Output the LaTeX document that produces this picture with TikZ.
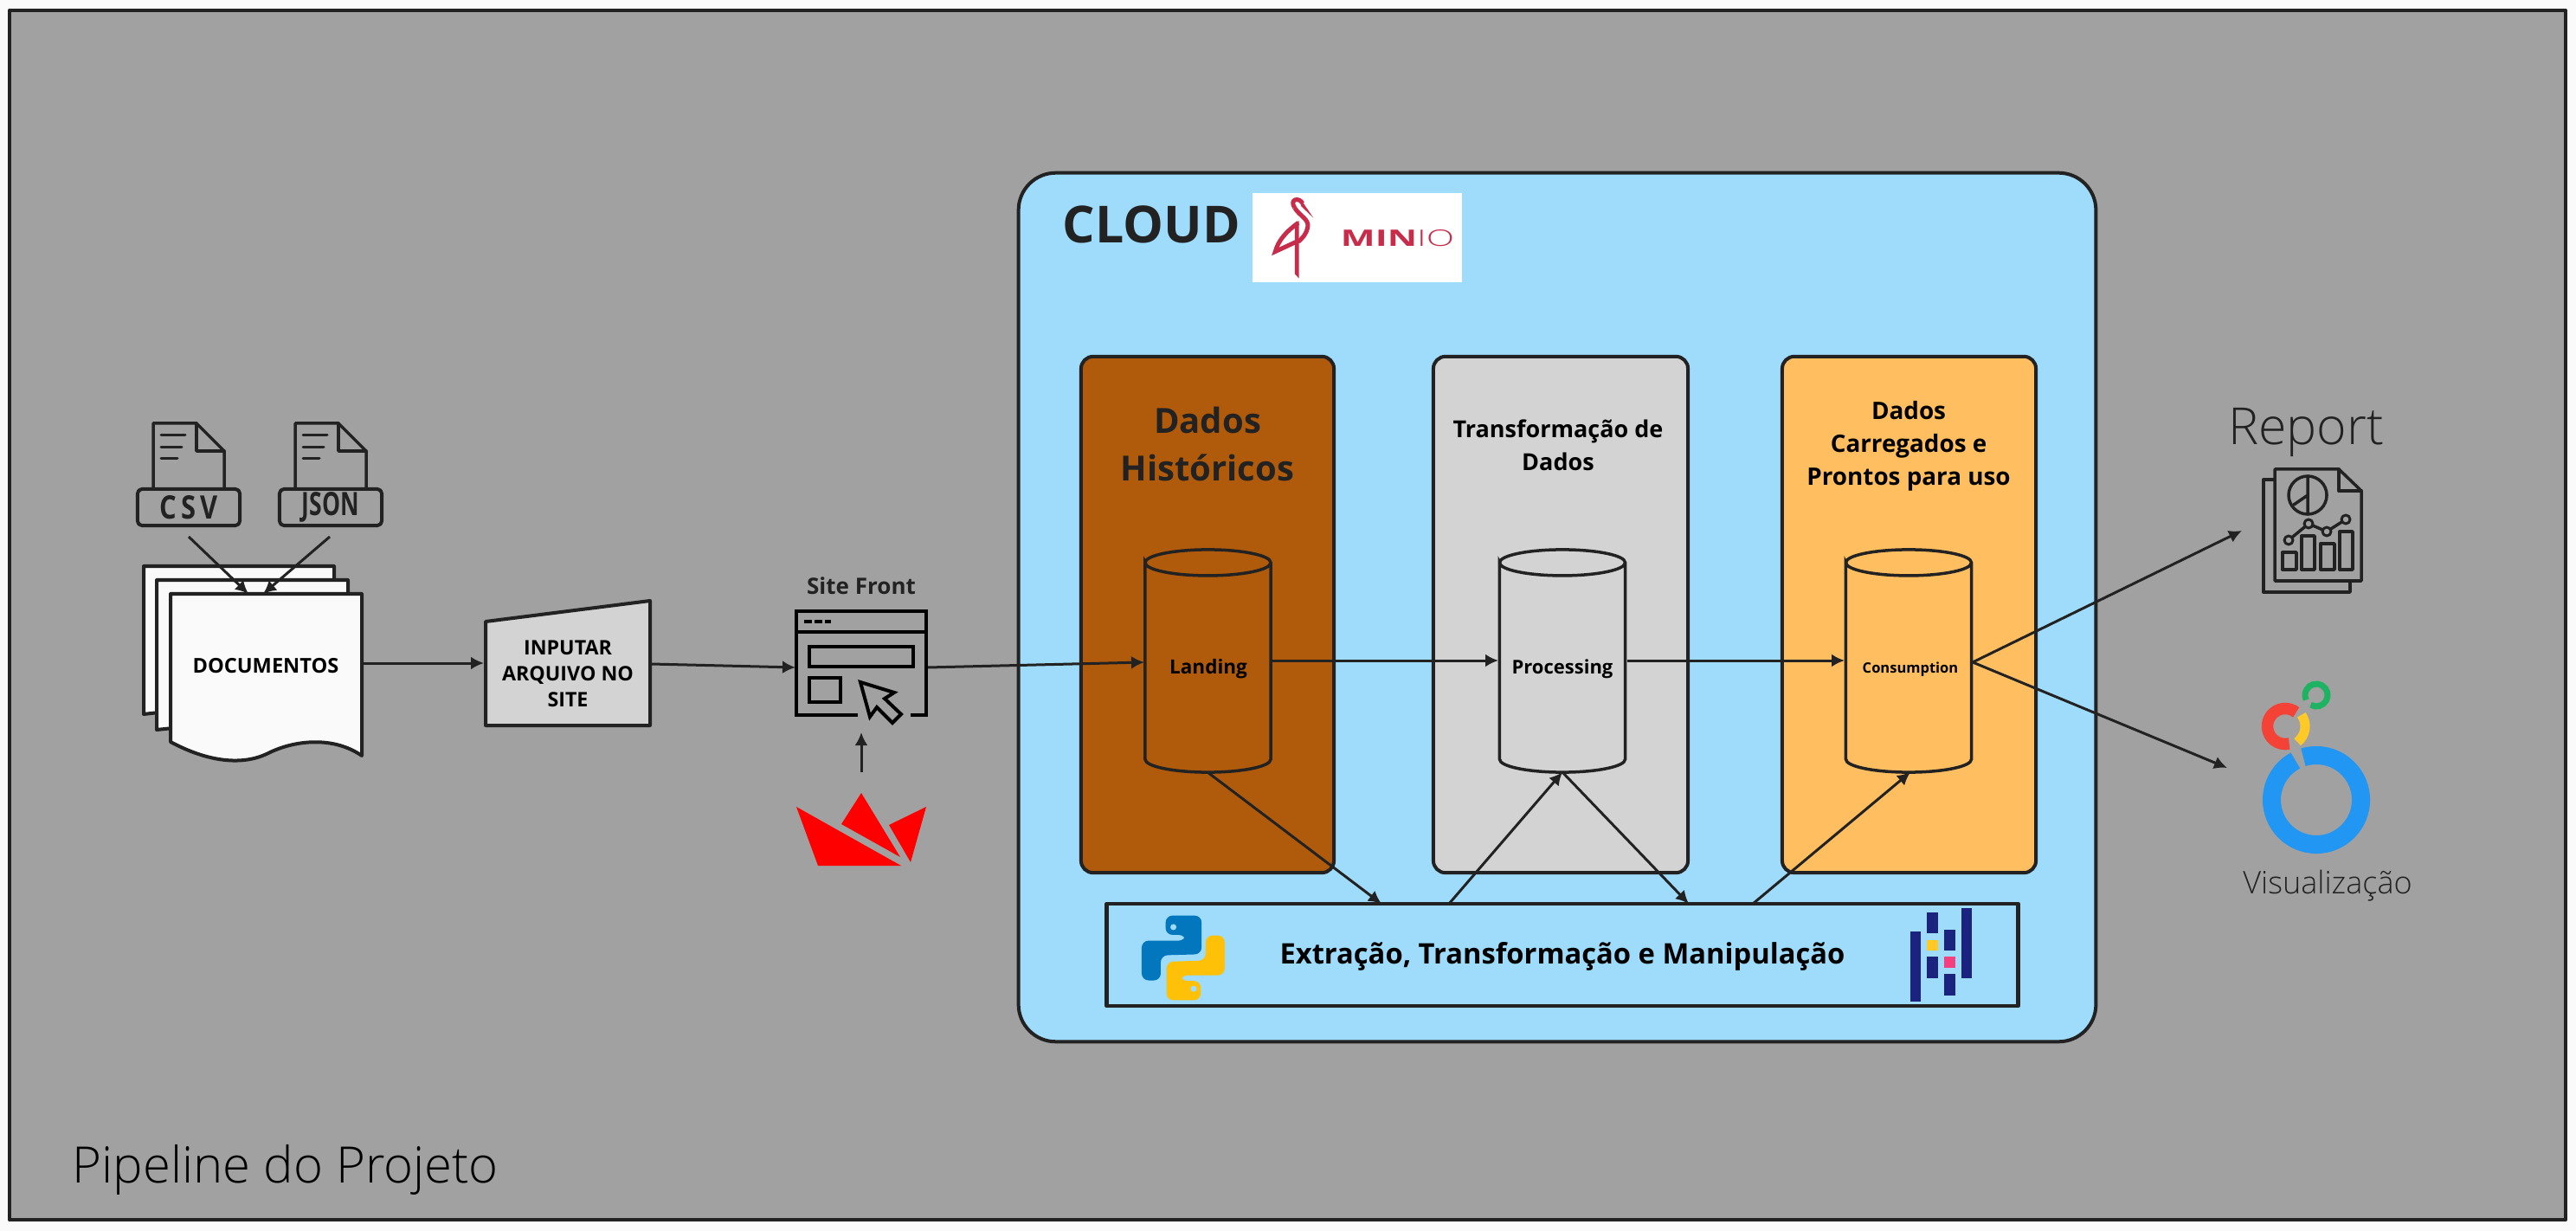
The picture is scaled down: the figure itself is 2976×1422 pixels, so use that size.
\documentclass[tikz,border=0pt]{standalone}
\usepackage{fontspec}
\setmainfont{Open Sans}
\newfontfamily\lightf{Open Sans Light}
\usetikzlibrary{arrows.meta,shapes.geometric,calc}
\newcommand\fpx[2]{\fontsize{\fpeval{#1*0.2845}pt}{\fpeval{#2*0.2845}pt}\selectfont}
\definecolor{ink}{HTML}{222222}
\definecolor{bggray}{HTML}{A1A1A1}
\definecolor{paper}{HTML}{FAFAFA}
\definecolor{cloudblue}{HTML}{9FDBFA}
\definecolor{brownc}{HTML}{B05A0B}
\definecolor{grayc}{HTML}{D3D3D3}
\definecolor{orangec}{HTML}{FFBF60}
\definecolor{minio}{HTML}{C72C4A}
\definecolor{pyblue}{HTML}{0277BD}
\definecolor{pyyellow}{HTML}{FFC107}
\definecolor{pdb}{HTML}{1A237E}
\definecolor{pdy}{HTML}{FFCA28}
\definecolor{pdp}{HTML}{F5407F}
\tikzset{
  x=0.01cm,y=-0.01cm,
  line4/.style={draw=ink,line width=0.04cm,line join=round},
  boxn/.style={line4,rectangle,inner sep=0pt,outer sep=0pt},
  column/.style={boxn,rounded corners=0.14cm,minimum width=2.92cm,minimum height=5.96cm},
  cylbox/.style={rectangle,minimum width=1.45cm,minimum height=2.57cm,inner sep=0pt,outer sep=0pt},
  cylline/.style={draw=ink,line width=0.035cm},
  arr/.style={draw=ink,line width=0.03cm,-{Latex[length=0.15cm,width=0.15cm]},shorten >=0pt},
  lab/.style={align=center,inner sep=0pt,text=ink},
  icon/.style={draw=ink,line width=0.035cm,line join=round,line cap=round},
  sheet/.style={draw=ink,line width=0.04cm,fill=paper,line join=round},
  webline/.style={draw=black,line width=0.04cm,line join=miter},
}
\newcommand\cylshape[1]{%
  \draw[cylline] ($(#1.north west)+(0,15)$) arc[x radius=0.725cm,y radius=0.15cm,start angle=180,end angle=-180]
    -- ($(#1.south west)+(0,-15)$) arc[x radius=0.725cm,y radius=0.15cm,start angle=180,end angle=360]
    -- ($(#1.north east)+(0,15)$);}
\begin{document}
\begin{tikzpicture}
\useasboundingbox (0,0) rectangle (2976,1422);
\fill[paper] (0,0) rectangle (2976,1422);
\node[boxn,fill=bggray,minimum width=29.51cm,minimum height=13.97cm] (frame) at (1487.5,710.5) {};
\node[lab,anchor=base west,text=black,font=\lightf\fpx{58}{60}] (title) at (83,1366) {Pipeline do Projeto};

% ---------- file icons
\foreach \dx in {0,164}{
  \begin{scope}[shift={(\dx,0)}]
    \draw[icon] (177,565) -- (177,489) -- (227,489) -- (259,521) -- (259,565);
    \draw[icon] (227,489) -- (227,521) -- (259,521);
    \draw[icon,line width=0.03cm] (186,503) -- (214,503) (186,517) -- (210,517) (186,530) -- (205,530);
  \end{scope}
}
\node[boxn,rounded corners=0.05cm,minimum width=1.18cm,minimum height=0.42cm] (csvl) at (218,586) {};
\node[boxn,rounded corners=0.05cm,minimum width=1.18cm,minimum height=0.42cm] (jsonl) at (382,586) {};
\node[lab,font=\bfseries] (csvt) at (218,586) {\resizebox{0.67cm}{0.27cm}{C\,S\,V}};
\node[lab,font=\bfseries] (jsont) at (382,586) {\resizebox{0.66cm}{0.27cm}{JSON}};
\coordinate (csvo) at (218,620);
\coordinate (jsono) at (381,620);

% ---------- documents stack
\draw[sheet] (166,654) -- (386,654) -- (386,800) -- (166,825) -- cycle;
\draw[sheet] (181,670) -- (402,670) -- (402,820) -- (181,843) -- cycle;
\draw[sheet] (197,686) -- (418,686) -- (418,873) .. controls (385,850) and (340,855) .. (310,870) .. controls (280,885) and (240,880) .. (197,857) -- cycle;
\node[lab,text=black,font=\bfseries\fpx{23.6}{28}] (doc) at (307,769) {DOCUMENTOS};
\coordinate (docE) at (419,766);
\coordinate (csvi) at (287,686);
\coordinate (jsoni) at (304,686);
\draw[arr] (csvo) -- (csvi);
\draw[arr] (jsono) -- (jsoni);

% ---------- inputar
\draw[line4,fill=grayc] (561,718) -- (751,694) -- (751,838) -- (561,838) -- cycle;
\node[lab,text=black,font=\bfseries\fpx{23.2}{30}] (inp) at (656,778) {INPUTAR\\ARQUIVO NO\\SITE};
\coordinate (inpW) at (559,766);
\coordinate (inpE) at (752,767);
\draw[arr] (docE) -- (inpW);

% ---------- site front
\node[lab,font=\bfseries\fpx{26}{28}] (sitet) at (995,677) {Site Front};
\draw[webline] (991,826) -- (920,826) -- (920,706) -- (1070,706) -- (1070,826) -- (1052,826);
\draw[webline] (920,730) -- (1070,730);
\draw[webline] (929,718) -- (938,718) (941,718) -- (950,718) (953,718) -- (960,718);
\draw[webline] (935,747) rectangle (1055,770);
\draw[webline] (935,783) rectangle (971,811);
\draw[webline] (994,788) -- (1033,800) -- (1022,807) -- (1041,825) -- (1031,835) -- (1013,817) -- (1005,828) -- cycle;
\coordinate (siteW) at (919,771);
\coordinate (siteE) at (1072,771);
\coordinate (siteS) at (995,846);
\draw[arr] (inpE) -- (siteW);

% ---------- streamlit
\fill[red] (920,932) -- (1041,1000) -- (945,1000) -- cycle;
\fill[red] (972,952) -- (995,916) -- (1040,990) -- cycle;
\fill[red] (1027,953) -- (1070,932) -- (1052,996) -- cycle;
\coordinate (stl) at (995,892);
\draw[arr] (stl) -- (siteS);

% ---------- cloud
\node[boxn,fill=cloudblue,rounded corners=0.43cm,minimum width=12.44cm,minimum height=10.03cm] (cloud) at (1799,701.5) {};
\node[lab,anchor=base west,font=\bfseries\fpx{59}{60}] (cloudt) at (1227,281) {CLOUD};
\node[fill=white,minimum width=2.42cm,minimum height=1.03cm,inner sep=0pt,outer sep=0pt] (miniobox) at (1568,274.5) {};
\begin{scope}[shift={(1460,220)},x=0.00333cm,y=-0.00333cm]
  \fill[minio] (108,118) -- (122,105) -- (122,305) -- (108,290) -- cycle;
  \draw[minio,line width=0.05cm,line join=miter] (120,112) .. controls (75,145) and (50,175) .. (40,212) -- (120,175);
  \draw[minio,line width=0.05cm] (107,60) .. controls (88,30) and (122,22) .. (135,45);
  \fill[minio] (128,30) -- (172,95) -- (130,55) -- cycle;
  \draw[minio,line width=0.05cm] (107,60) .. controls (125,90) and (160,100) .. (152,130) .. controls (148,150) and (135,165) .. (120,178);
\end{scope}
\node[text=minio,inner sep=0pt] (miniot) at (1614.5,275.5) {\resizebox{1.31cm}{0.19cm}{\textbf{MIN}{\lightf IO}}};

% ---------- columns
\node[column,fill=brownc] (c1) at (1395,710) {};
\node[column,fill=grayc,minimum width=2.94cm] (c2) at (1803,710) {};
\node[column,fill=orangec,minimum width=2.93cm] (c3) at (2205.5,710) {};
\node[lab,font=\bfseries\fpx{40}{55}] (c1t) at (1395,513) {Dados\\Históricos};
\node[lab,text=black,font=\bfseries\fpx{27}{38}] (c2t) at (1800,514) {Transformação de\\Dados};
\node[lab,text=black,font=\bfseries\fpx{27.8}{38}] (c3t) at (2205,515) {Dados\\Carregados e\\Prontos para uso};

% ---------- cylinders
\node[cylbox] (land) at (1395.5,763.5) {};
\node[cylbox] (proc) at (1805,763.5) {};
\node[cylbox] (cons) at (2205,763.5) {};
\cylshape{land}\cylshape{proc}\cylshape{cons}
\node[lab,text=black,font=\bfseries\fpx{22.5}{26}] (landt) at (1396,773) {Landing};
\node[lab,text=black,font=\bfseries\fpx{22}{26}] (proct) at (1805,773) {Processing};
\node[lab,text=black,font=\bfseries\fpx{16.5}{22}] (const) at (2207,773) {Consumption};
\coordinate (landW) at (1322,765);
\coordinate (landE) at (1469,763);
\coordinate (procW) at (1731,763);
\coordinate (procE) at (1880,763);
\coordinate (consW) at (2131,763);
\coordinate (consE) at (2279,765);
\draw[arr] (siteE) -- (landW);
\draw[arr] (landE) -- (procW);
\draw[arr] (procE) -- (consW);

% ---------- extract bar
\node[boxn,draw=ink,line width=0.045cm,minimum width=10.52cm,minimum height=1.18cm] (ext) at (1805,1103) {};
\node[lab,text=black,font=\bfseries\fpx{32.7}{38}] (extt) at (1805,1105) {Extração, Transformação e Manipulação};
\coordinate (x1) at (1596,1044);
\coordinate (x2) at (1674,1044);
\coordinate (x3) at (1951,1044);
\coordinate (x4) at (2025,1044);
\coordinate (l1) at (1395,892);
\coordinate (p1) at (1805,892);
\coordinate (c1b) at (2207,892);
\draw[arr] (l1) -- (x1);
\draw[arr] (x2) -- (p1);
\draw[arr] (p1) -- (x3);
\draw[arr] (x4) -- (c1b);

% ---------- python
\begin{scope}[shift={(1305,1045)},x=0.00333cm,y=-0.00333cm]
  \fill[pyblue,rounded corners=0.08cm] (125,38) -- (250,38) -- (250,172) -- (108,176) -- (108,263) -- (42,263) -- (42,125) -- (195,125) -- (195,105) -- (125,105) -- cycle;
  \fill[cloudblue] (152,78) circle[radius=0.035cm];
  \fill[pyyellow,rounded corners=0.08cm] (247,332) -- (128,332) -- (128,198) -- (264,194) -- (264,107) -- (330,107) -- (330,245) -- (177,245) -- (177,265) -- (247,265) -- cycle;
  \fill[cloudblue] (222,292) circle[radius=0.035cm];
\end{scope}

% ---------- pandas
\fill[pdb] (2207,1076) rectangle (2219,1157);
\fill[pdb] (2226,1054) rectangle (2239,1078);
\fill[pdy] (2226,1086) rectangle (2239,1098);
\fill[pdb] (2226,1105) rectangle (2239,1130);
\fill[pdb] (2246,1074) rectangle (2259,1098);
\fill[pdp] (2246,1105) rectangle (2259,1118);
\fill[pdb] (2246,1125) rectangle (2259,1150);
\fill[pdb] (2266,1049) rectangle (2278,1130);

% ---------- report
\node[lab,anchor=base,font=\lightf\fpx{59}{60}] (rept) at (2664,514) {Report};
\draw[icon] (2628,554) -- (2615,554) -- (2615,684) -- (2715,684) -- (2715,671);
\draw[icon] (2628,542) -- (2702,542) -- (2728,567) -- (2728,671) -- (2628,671) -- cycle;
\draw[icon] (2702,542) -- (2702,567) -- (2728,567);
\draw[icon] (2666,572) circle[radius=0.22cm];
\draw[icon] (2666,550) -- (2666,594) (2666,572) -- (2650,583);
\draw[icon] (2644,624) -- (2667,605) -- (2688,614) -- (2710,600);
\foreach \cx/\cy in {2644/624,2667/605,2688/614,2710/600}{\fill[bggray] (\cx,\cy) circle[radius=0.05cm]; \draw[icon,line width=0.03cm] (\cx,\cy) circle[radius=0.05cm];}
\draw[icon] (2637,638) rectangle (2653,658);
\draw[icon] (2659,619) rectangle (2674,658);
\draw[icon] (2681,628) rectangle (2697,658);
\draw[icon] (2703,614) rectangle (2718,658);
\coordinate (repi) at (2590,613);
\draw[arr] (consE) -- (repi);

% ---------- looker
\draw[color={rgb,255:red,33;green,150;blue,243},line width=0.21cm] (2676,924) ++(118:0.515cm) arc[start angle=118,end angle=467,radius=0.515cm];
\draw[color={rgb,255:red,244;green,67;blue,54},line width=0.135cm] (2640,839) ++(52:0.205cm) arc[start angle=52,end angle=283,radius=0.205cm];
\draw[color={rgb,255:red,255;green,202;blue,40},line width=0.11cm] (2640,839) ++(-52:0.23cm) arc[start angle=-52,end angle=35,radius=0.23cm];
\draw[color={rgb,255:red,30;green,178;blue,99},line width=0.07cm] (2676,803) ++(240:0.13cm) arc[start angle=240,end angle=565,radius=0.13cm];
\coordinate (visi) at (2573,887);
\draw[arr] (consE) -- (visi);
\node[lab,anchor=base,font=\lightf\fpx{36}{38}] (vist) at (2689,1032) {Visualização};
\end{tikzpicture}
\end{document}
